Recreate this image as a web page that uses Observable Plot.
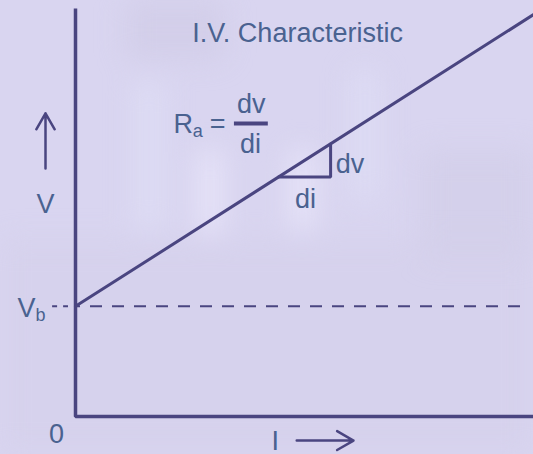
<!DOCTYPE html>
<html>
<head>
<meta charset="utf-8">
<script src="https://cdn.jsdelivr.net/npm/d3@7"></script>
<script src="https://cdn.jsdelivr.net/npm/@observablehq/plot@0.6"></script>
<style>
  html, body { margin: 0; padding: 0; }
  body {
    width: 533px; height: 454px; overflow: hidden; position: relative;
    background: #d9d5f0;
    font-family: "Liberation Sans", Arial, Helvetica, sans-serif;
  }
  #bg { position: absolute; inset: 0; overflow: hidden; filter: blur(14px); }
  #bg div { position: absolute; border-radius: 8px; }
  #chart { position: absolute; left: 0; top: 0; }
</style>
</head>
<body>
<div id="bg">
  <div style="left:125px;top:0;width:100px;height:60px;background:#ccc7e3;opacity:.45"></div>
  <div style="left:135px;top:80px;width:28px;height:150px;background:#e0e0f6;opacity:.7"></div>
  <div style="left:198px;top:150px;width:24px;height:85px;background:#ebe8fb;opacity:.8"></div>
  <div style="left:290px;top:150px;width:24px;height:80px;background:#ebe8fb;opacity:.8"></div>
  <div style="left:352px;top:70px;width:26px;height:130px;background:#e0e0f6;opacity:.7"></div>
  <div style="left:420px;top:150px;width:113px;height:110px;background:#d0cce6;opacity:.5"></div>
  <div style="left:0;top:240px;width:533px;height:214px;background:#d3cfe9;opacity:.45"></div>
</div>
<div id="chart"></div>
<script>
// Armature I–V characteristic: V = Vb + Ra·I
const lineColor = "#4a4580";
const textColor = "#4a6290";
const font = "Liberation Sans, Arial, Helvetica, sans-serif";

// Axis frame (current I along x, voltage V along y)
const axisFrame = [{i: 0, v: 10}, {i: 0, v: 0}, {i: 10, v: 0}];

// Brush-drop voltage level Vb
const vb = 2.7;

// Characteristic line endpoints
const ivLine = [{i: 0, v: 2.7}, {i: 10, v: 9.85}];

// Slope triangle (di horizontal leg, dv vertical leg)
const slopeTriangle = [{i: 4.43, v: 5.87}, {i: 5.57, v: 5.87}, {i: 5.57, v: 6.68}];

// Dashed Vb guide: short dashes left of the axis, long dashes to the right
const vbGuideLeft = [{i1: -0.50, i2: -0.153, v: vb}];
const vbGuideRight = [{i1: 0, i2: 9.74, v: vb}];

// Fraction bar in Ra = dv/di
const fractionBar = [{i1: 3.47, i2: 4.21, v: 7.18}];

// Direction arrows beside the axis labels
const arrows = [
  {i1: -0.655, v1: 6.08, i2: -0.655, v2: 7.43},
  {i1: 4.83, v1: -0.59, i2: 6.07, v2: -0.59}
];

// Centred labels (baseline-anchored)
const centredLabels = [
  {i: 4.85, v: 9.19, text: "I.V. Characteristic"},
  {i: 3.84, v: 7.43, text: "dv"},
  {i: 3.82, v: 6.45, text: "di"},
  {i: 5.02, v: 5.10, text: "di"},
  {i: -0.655, v: 4.98, text: "V"},
  {i: -0.415, v: -0.66, text: "0"},
  {i: 4.36, v: -0.81, text: "I"}
];

// Left-aligned labels
const leftLabels = [
  {i: 2.14, v: 6.96, text: "R"},
  {i: 2.93, v: 6.96, text: "="},
  {i: 5.68, v: 5.98, text: "dv"},
  {i: -1.266, v: 2.43, text: "V"}
];

// Subscripts (smaller type)
const subscripts = [
  {i: 2.56, v: 6.86, text: "a"},
  {i: -0.873, v: 2.33, text: "b"}
];

const chart = Plot.plot({
  width: 533,
  height: 454,
  marginLeft: 75,
  marginRight: 0,
  marginTop: 8,
  marginBottom: 38,
  x: {domain: [0, 10], axis: null},
  y: {domain: [0, 10], axis: null},
  style: {background: "transparent", fontFamily: font, overflow: "visible"},
  marks: [
    Plot.ruleY(vbGuideLeft, {x1: "i1", x2: "i2", y: "v", stroke: lineColor, strokeWidth: 2, strokeDasharray: "5,6"}),
    Plot.ruleY(vbGuideRight, {x1: "i1", x2: "i2", y: "v", stroke: lineColor, strokeWidth: 2, strokeDasharray: "12,10", strokeDashoffset: 7}),
    Plot.line(axisFrame, {x: "i", y: "v", stroke: lineColor, strokeWidth: 3.5, strokeLinejoin: "miter", strokeLinecap: "butt"}),
    Plot.line(ivLine, {x: "i", y: "v", stroke: lineColor, strokeWidth: 3}),
    Plot.line(slopeTriangle, {x: "i", y: "v", stroke: lineColor, strokeWidth: 3, strokeLinejoin: "miter"}),
    Plot.ruleY(fractionBar, {x1: "i1", x2: "i2", y: "v", stroke: lineColor, strokeWidth: 4}),
    Plot.arrow(arrows, {x1: "i1", y1: "v1", x2: "i2", y2: "v2", stroke: lineColor, strokeWidth: 2.5, headLength: 18, headAngle: 60}),
    Plot.text(centredLabels, {x: "i", y: "v", text: "text", textAnchor: "middle", lineAnchor: "bottom", fill: textColor, fontSize: 27}),
    Plot.text(leftLabels, {x: "i", y: "v", text: "text", textAnchor: "start", lineAnchor: "bottom", fill: textColor, fontSize: 27}),
    Plot.text(subscripts, {x: "i", y: "v", text: "text", textAnchor: "start", lineAnchor: "bottom", fill: textColor, fontSize: 18})
  ]
});

document.getElementById("chart").appendChild(chart);
</script>
</body>
</html>
